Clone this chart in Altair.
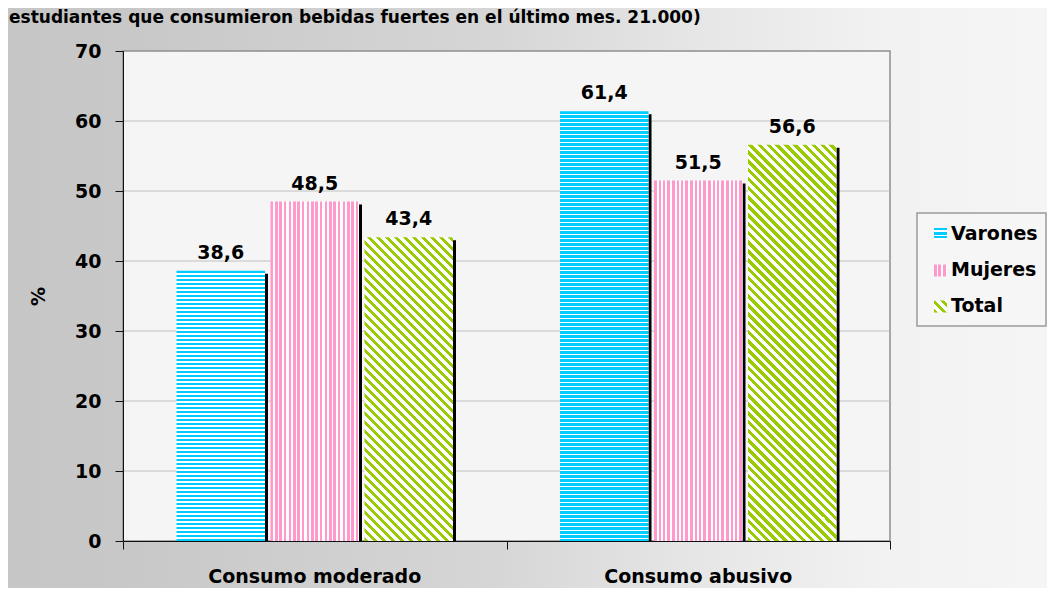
import altair as alt
import pandas as pd

# ---------------- data ----------------
categories = ["Consumo moderado", "Consumo abusivo"]
series = ["Varones", "Mujeres", "Total"]
varones = [38.6, 61.4]
mujeres = [48.5, 51.5]
total = [43.4, 56.6]
y_ticks = [0, 10, 20, 30, 40, 50, 60, 70]
title_text = "estudiantes que consumieron bebidas fuertes en el último mes. 21.000)"
y_title = "%"

# ---------------- style ----------------
colors = {"Varones": "#00CCFF", "Mujeres": "#FF99CC", "Total": "#99CC00"}
FONT = "DejaVu Sans"
FS = 19
W, H = 767, 490
PAD = {"left": 115, "top": 43, "right": 157, "bottom": 47}
YMAX = y_ticks[-1]
PX = H / YMAX
BAND = W / len(categories)
BAR_W = 88.5
PITCH = 94.0

values_by_series = {"Varones": varones, "Mujeres": mujeres, "Total": total}
rows = []
for ci, cat in enumerate(categories):
    for si, s in enumerate(series):
        v = values_by_series[s][ci]
        xa = ci + 0.5 + ((si - 1) * PITCH - BAR_W / 2) / BAND
        xb = xa + BAR_W / BAND
        rows.append({"cat": cat, "series": s, "value": v, "xa": xa, "xb": xb,
                     "xc": (xa + xb) / 2, "label": f"{v:.1f}".replace(".", ",")})
df = pd.DataFrame(rows)


def stripe_stops(length, period, on, color, bg="#FFFFFF"):
    st = []
    pos = 0.0
    while pos < length:
        a, b = pos, min(pos + on, length)
        if b > a:
            st += [(a, color), (b, color)]
        c, d = min(pos + on, length), min(pos + period, length)
        if d > c:
            st += [(c, bg), (d, bg)]
        pos += period
    return [{"offset": round(o / length, 5), "color": col} for o, col in st]


def hgrad(w, h, color):
    return {"gradient": "linear", "x1": 0, "y1": 0, "x2": 0, "y2": 1,
            "stops": stripe_stops(h, 4.0, 2.5, color)}


def vgrad(w, h, color):
    return {"gradient": "linear", "x1": 0, "y1": 0, "x2": 1, "y2": 0,
            "stops": stripe_stops(w, 4.5, 2.5, color)}


def dgrad(w, h, color):
    s = (w + h) / (w * w + h * h)
    return {"gradient": "linear", "x1": 0, "y1": 1, "x2": s * w, "y2": 1 - s * h,
            "stops": stripe_stops(w + h, 9.0, 4.2, color)}


grad_fn = {"Varones": hgrad, "Mujeres": vgrad, "Total": dgrad}

X_SC = alt.Scale(domain=[0, len(categories)], nice=False, zero=False)
Y_SC = alt.Scale(domain=[0, YMAX], nice=False)
X_AX = alt.Axis(values=list(range(len(categories) + 1)), labels=False, title="",
                tickSize=8, grid=False, domainColor="#111111", tickColor="#111111",
                domainWidth=1, tickWidth=1, zindex=1)
Y_AX = alt.Axis(values=y_ticks, title=y_title, grid=False, tickSize=8,
                domainColor="#111111", tickColor="#111111", domainWidth=1, tickWidth=1,
                labelFont=FONT, labelFontSize=FS, labelFontWeight="bold", labelColor="black",
                labelPadding=14, titleFont=FONT, titleFontSize=FS, titleFontWeight="bold",
                titleColor="black", titleAngle=270, titleX=-85, titleY=H / 2,
                titleAlign="center", titleBaseline="middle", zindex=1)

one = pd.DataFrame({"k": [0]})
layers = []

# page background gradient
bg_grad = {"gradient": "linear", "x1": 0, "y1": 0, "x2": 1, "y2": 0,
           "stops": [{"offset": 0, "color": "#C6C6C6"}, {"offset": 0.12, "color": "#C8C8C8"},
                     {"offset": 0.47, "color": "#D6D6D6"}, {"offset": 0.66, "color": "#E6E6E6"},
                     {"offset": 0.85, "color": "#F2F2F2"}, {"offset": 1, "color": "#F5F5F5"}]}
layers.append(alt.Chart(one).mark_rect(fill=bg_grad).encode(
    x=alt.value(-PAD["left"]), x2=alt.value(W + PAD["right"]),
    y=alt.value(-PAD["top"]), y2=alt.value(H + PAD["bottom"])))

# title line at the very top
layers.append(alt.Chart(pd.DataFrame({"t": [title_text]})).mark_text(
    align="left", baseline="alphabetic", font=FONT, fontSize=17, fontWeight="bold",
    color="black").encode(x=alt.value(-PAD["left"] + 1), y=alt.value(-PAD["top"] + 15), text="t:N"))

# plot area
layers.append(alt.Chart(one).mark_rect(fill="#F5F5F5", stroke="#8F8F8F", strokeWidth=1.5).encode(
    x=alt.value(0), x2=alt.value(W), y=alt.value(0), y2=alt.value(H)))

# gridlines
grid_df = pd.DataFrame({"v": [t for t in y_ticks if 0 < t < YMAX]})
layers.append(alt.Chart(grid_df).mark_rule(color="#C0C0C0", strokeWidth=1).encode(
    y=alt.Y("v:Q", scale=Y_SC, axis=Y_AX), x=alt.value(0), x2=alt.value(W)))

# shadows
layers.append(alt.Chart(df).mark_rect(color="black", x2Offset=3, yOffset=3).encode(
    x=alt.X("xb:Q", scale=X_SC, axis=X_AX), x2="xb:Q",
    y=alt.Y("value:Q", scale=Y_SC, axis=Y_AX, stack=None), y2=alt.datum(0)))

# patterned bars
for _, r in df.iterrows():
    h = r["value"] * PX
    g = grad_fn[r["series"]](BAR_W, h, colors[r["series"]])
    layers.append(alt.Chart(pd.DataFrame([r])).mark_rect(fill=g).encode(
        x=alt.X("xa:Q", scale=X_SC, axis=X_AX), x2="xb:Q",
        y=alt.Y("value:Q", scale=Y_SC, axis=Y_AX, stack=None), y2=alt.datum(0)))

# value labels
layers.append(alt.Chart(df).mark_text(baseline="alphabetic", dy=-12, font=FONT, fontSize=FS,
                                      fontWeight="bold", color="black").encode(
    x=alt.X("xc:Q", scale=X_SC, axis=X_AX),
    y=alt.Y("value:Q", scale=Y_SC, axis=Y_AX, stack=None), text="label:N"))

# category labels
cat_df = pd.DataFrame({"cat": categories, "cx": [i + 0.5 for i in range(len(categories))]})
layers.append(alt.Chart(cat_df).mark_text(baseline="middle", font=FONT, fontSize=FS,
                                          fontWeight="bold", color="black").encode(
    x=alt.X("cx:Q", scale=X_SC, axis=X_AX), y=alt.value(526), text="cat:N"))

# legend
LX0, LX1, LY0, LY1 = 794, 923, 162, 275
layers.append(alt.Chart(one).mark_rect(fill="#F6F6F6", stroke="#9A9A9A", strokeWidth=1.5).encode(
    x=alt.value(LX0), x2=alt.value(LX1), y=alt.value(LY0), y2=alt.value(LY1)))
row_centers = [183, 219.5, 255.5]
for s, c in zip(series, row_centers):
    g = grad_fn[s](13, 12, colors[s])
    layers.append(alt.Chart(one).mark_rect(fill=g).encode(
        x=alt.value(811), x2=alt.value(824), y=alt.value(c - 6), y2=alt.value(c + 6)))
    layers.append(alt.Chart(pd.DataFrame({"s": [s]})).mark_text(
        align="left", baseline="middle", font=FONT, fontSize=FS, fontWeight="bold",
        color="black").encode(x=alt.value(828), y=alt.value(c - 0.5), text="s:N"))

chart = alt.layer(*layers).properties(
    width=W, height=H, padding=PAD, autosize=alt.AutoSizeParams(type="none")
).configure_view(stroke=None).configure(background="white")

chart.save("out.html", embed_options={"renderer": "svg", "actions": False})
